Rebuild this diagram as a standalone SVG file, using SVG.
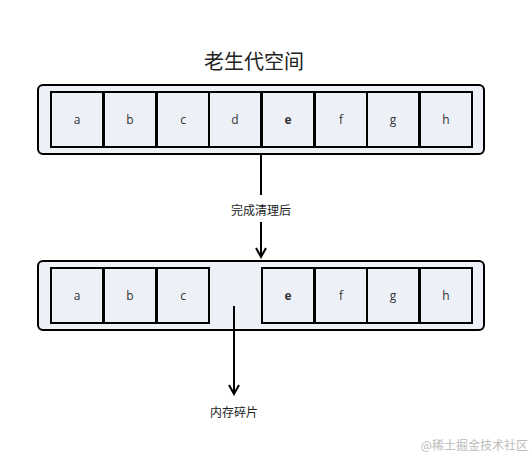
<svg xmlns="http://www.w3.org/2000/svg" width="532" height="456" viewBox="0 0 532 456">
<style>
.box{fill:#eef0f8;stroke:#000;stroke-width:2}
.cell{fill:#eef0f8;stroke:#000;stroke-width:2}
.lt{font-family:"Open Sans","Liberation Sans",sans-serif;font-size:12px;fill:#333;text-anchor:middle}
.cjk{font-family:"Noto Sans CJK SC",sans-serif;fill:#222;text-anchor:middle}
.conn{stroke:#000;stroke-width:2;fill:none}
</style>
<defs>
<marker id="arr" viewBox="0 0 12 12" refX="10" refY="6" markerWidth="12" markerHeight="12" markerUnits="userSpaceOnUse" orient="auto">
<path d="M1,1 L10,6 L1,11" fill="none" stroke="#000" stroke-width="2"/>
</marker>
</defs>
<rect width="532" height="456" fill="#fff"/>
<text class="cjk" x="254" y="69" font-size="20">老生代空间</text>
<g id="old-space">
<rect class="box" x="38" y="85" width="446" height="69" rx="5"/>
<g id="cell-a1"><rect class="cell" x="51" y="92" width="52" height="55"/><text class="lt" x="77" y="124">a</text></g>
<g id="cell-b1"><rect class="cell" x="104" y="92" width="52" height="55"/><text class="lt" x="130" y="124">b</text></g>
<g id="cell-c1"><rect class="cell" x="157" y="92" width="52" height="55"/><text class="lt" x="183" y="124">c</text></g>
<g id="cell-d1"><rect class="cell" x="209" y="92" width="52" height="55"/><text class="lt" x="235" y="124">d</text></g>
<g id="cell-e1"><rect class="cell" x="262" y="92" width="52" height="55"/><text class="lt" x="288" y="124" font-weight="bold">e</text></g>
<g id="cell-f1"><rect class="cell" x="315" y="92" width="52" height="55"/><text class="lt" x="341" y="124">f</text></g>
<g id="cell-g1"><rect class="cell" x="367" y="92" width="52" height="55"/><text class="lt" x="393" y="124">g</text></g>
<g id="cell-h1"><rect class="cell" x="420" y="92" width="52" height="55"/><text class="lt" x="446" y="124">h</text></g>
</g>
<g id="after-space">
<rect class="box" x="38" y="261" width="446" height="69" rx="5"/>
<g id="cell-a2"><rect class="cell" x="51" y="268" width="52" height="55"/><text class="lt" x="77" y="300">a</text></g>
<g id="cell-b2"><rect class="cell" x="104" y="268" width="52" height="55"/><text class="lt" x="130" y="300">b</text></g>
<g id="cell-c2"><rect class="cell" x="157" y="268" width="52" height="55"/><text class="lt" x="183" y="300">c</text></g>
<g id="cell-e2"><rect class="cell" x="262" y="268" width="52" height="55"/><text class="lt" x="288" y="300" font-weight="bold">e</text></g>
<g id="cell-f2"><rect class="cell" x="315" y="268" width="52" height="55"/><text class="lt" x="341" y="300">f</text></g>
<g id="cell-g2"><rect class="cell" x="367" y="268" width="52" height="55"/><text class="lt" x="393" y="300">g</text></g>
<g id="cell-h2"><rect class="cell" x="420" y="268" width="52" height="55"/><text class="lt" x="446" y="300">h</text></g>
</g>
<g id="connectors">
<path class="conn" d="M261,155 V195"/>
<path class="conn" d="M261,222 V257" marker-end="url(#arr)"/>
<text class="cjk" x="261" y="215" font-size="12">完成清理后</text>
<path class="conn" d="M234,306 V394" marker-end="url(#arr)"/>
<text class="cjk" x="234" y="417" font-size="12">内存碎片</text>
</g>
<text x="528" y="450" font-family="Noto Sans CJK SC,sans-serif" font-size="12" fill="#bbb" text-anchor="end">@稀土掘金技术社区</text>
</svg>
